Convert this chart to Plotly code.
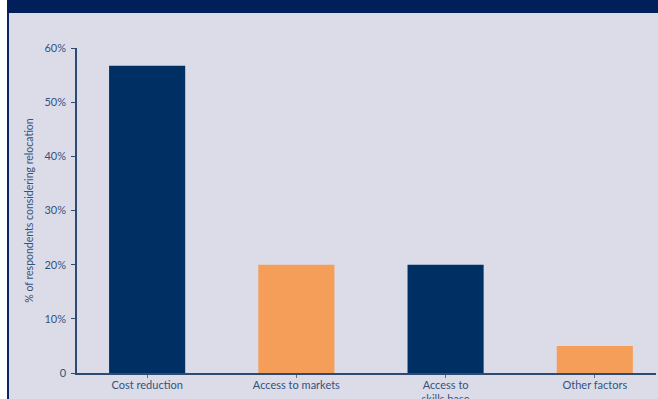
import plotly.graph_objects as go

# Reasons for considering relocation
categories = ["Cost reduction", "Access to markets", "Access to<br>skills base", "Other factors"]
values = [56.7, 20, 20, 5]
bar_colors = ["#003063", "#f59e5a", "#003063", "#f59e5a"]
y_ticks = [0, 10, 20, 30, 40, 50, 60]
y_tick_labels = ["0", "10%", "20%", "30%", "40%", "50%", "60%"]

text_color = "#33527f"
axis_color = "#2c4a72"
bg = "#dcdce8"
font_family = "Lato, 'Open Sans', sans-serif"

fig = go.Figure(
    go.Bar(
        x=list(range(len(categories))),
        y=values,
        marker=dict(color=bar_colors, line=dict(width=0)),
        width=0.51,
        hoverinfo="skip",
    )
)

fig.update_layout(
    width=658,
    height=399,
    margin=dict(l=77, r=2, t=48, b=26),
    paper_bgcolor=bg,
    plot_bgcolor=bg,
    showlegend=False,
    font=dict(family=font_family, size=11, color=text_color),
    xaxis=dict(
        range=[-0.47, 3.41],
        tickmode="array",
        tickvals=list(range(len(categories))),
        ticktext=categories,
        showgrid=False,
        zeroline=False,
        showline=True,
        linecolor=axis_color,
        linewidth=1.5,
        ticks="outside",
        ticklen=3,
        tickcolor="#666a7a",
        tickfont=dict(size=11, color=text_color),
        ticklabelstandoff=-2,
        automargin=False,
        fixedrange=True,
    ),
    yaxis=dict(
        range=[0, 60],
        tickmode="array",
        tickvals=y_ticks,
        ticktext=y_tick_labels,
        showgrid=False,
        zeroline=False,
        showline=True,
        linecolor=axis_color,
        linewidth=1.5,
        ticks="outside",
        ticklen=4,
        tickcolor=axis_color,
        tickfont=dict(size=11, color=text_color),
        ticklabelstandoff=3,
        title=dict(
            text="% of respondents considering relocation",
            font=dict(size=10.5, color=text_color),
            standoff=9,
        ),
        automargin=False,
        fixedrange=True,
    ),
    shapes=[
        # white strip on the far left
        dict(type="rect", xref="paper", yref="paper", x0=-77 / 579, x1=-70 / 579,
             y0=-1, y1=2, fillcolor="white", line=dict(width=0), layer="above"),
        # navy rule down the left edge
        dict(type="rect", xref="paper", yref="paper", x0=-70 / 579, x1=-68 / 579,
             y0=-1, y1=2, fillcolor="#0a2563", line=dict(width=0), layer="above"),
        # header band
        dict(type="rect", xref="paper", yref="paper", x0=-70 / 579, x1=1.1,
             y0=1 + 35 / 325, y1=1.5, fillcolor="#001f5b", line=dict(width=0), layer="above"),
    ],
)

fig.write_html("out.html")
